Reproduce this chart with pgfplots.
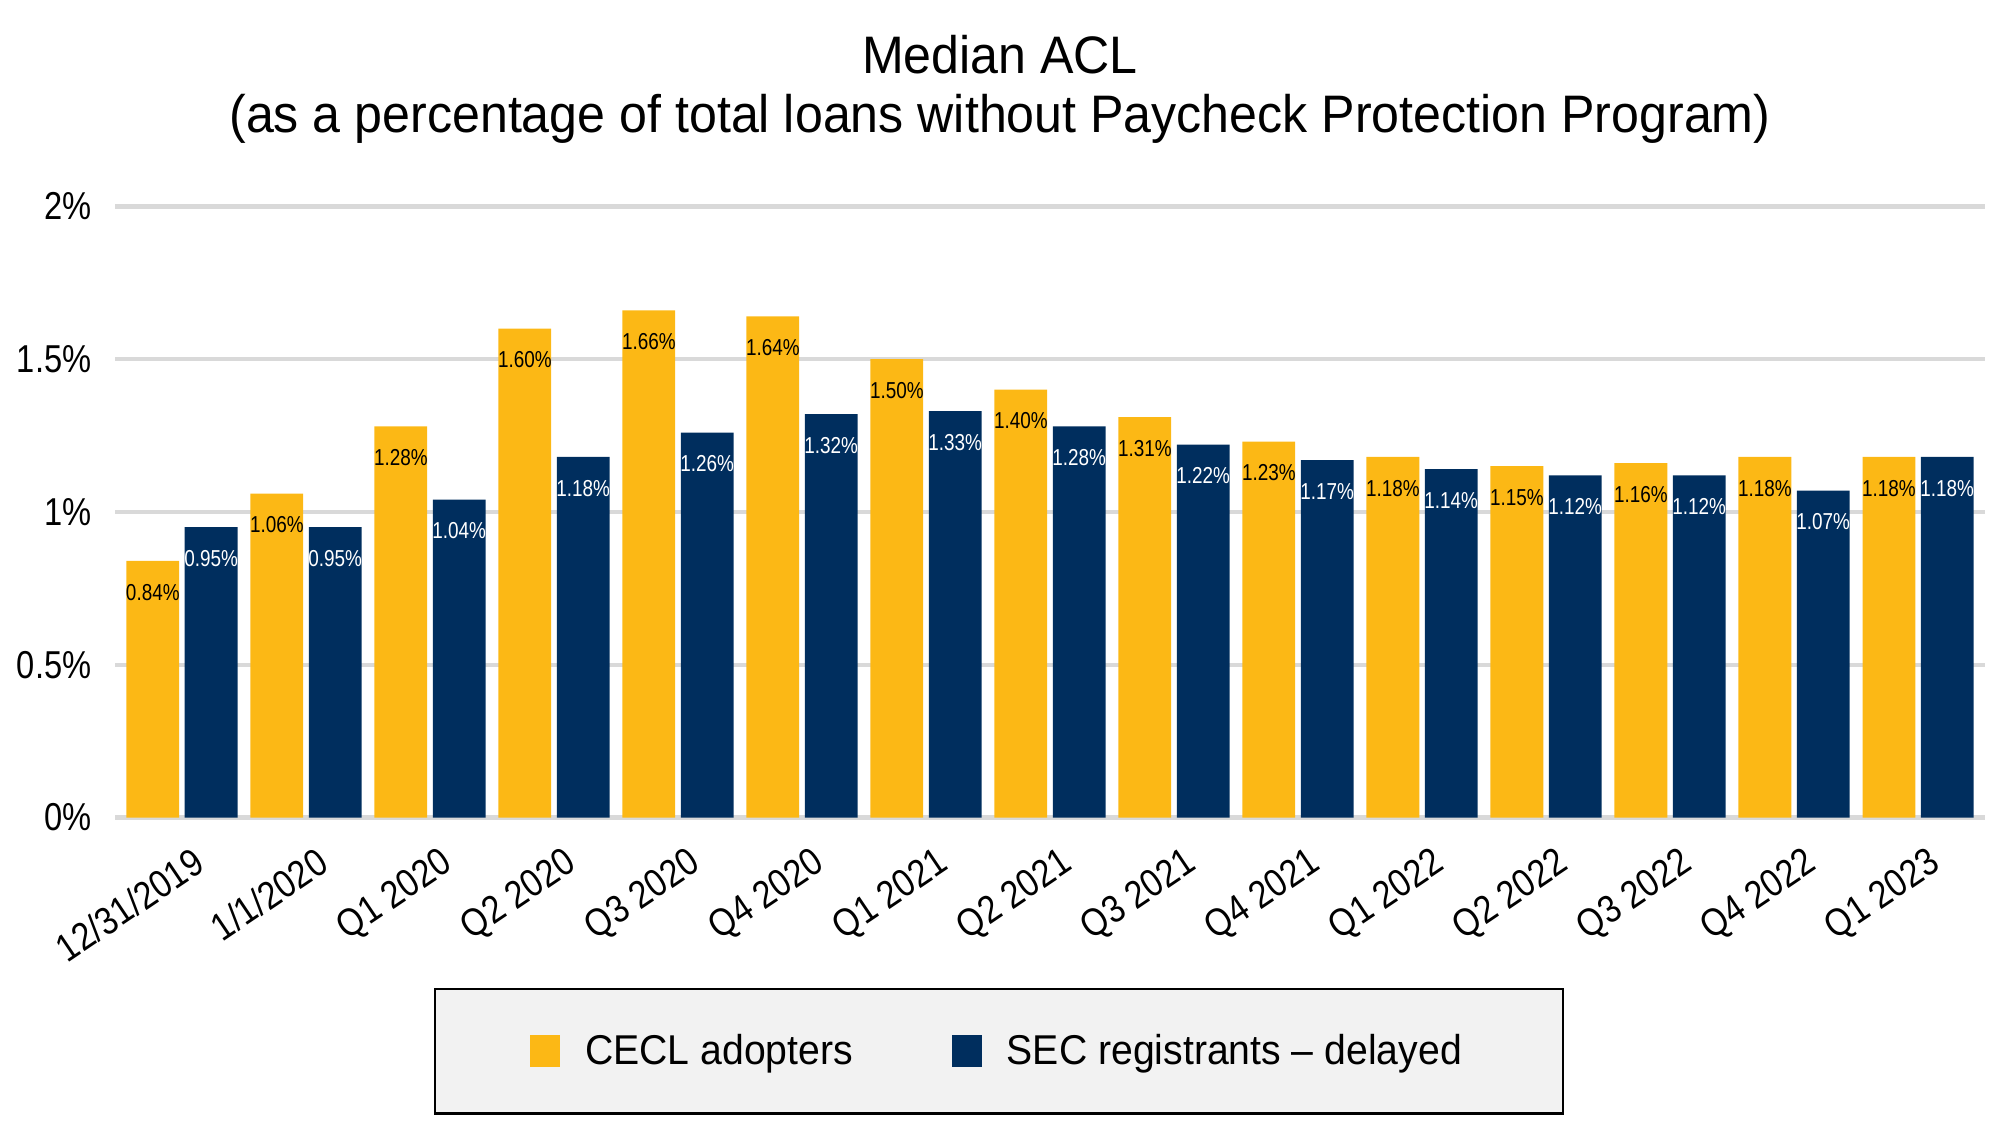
\documentclass[border=0pt]{standalone}
\usepackage{pgfplots}
\pgfplotsset{compat=1.18}
\usepackage{fontspec}
\setmainfont{Liberation Sans}
\newfontfamily\xfont{Liberation Sans}[FakeStretch=0.86]
\newfontfamily\yfont{Liberation Sans}[FakeStretch=0.84]
\newfontfamily\valfont{Liberation Sans}[FakeStretch=0.82]
\newfontfamily\titlefont{Liberation Sans}[FakeStretch=0.95]
\newfontfamily\legfont{Liberation Sans}[FakeStretch=0.94]
\definecolor{cecl}{RGB}{252,184,21}
\definecolor{sec}{RGB}{0,46,94}
\definecolor{gridgray}{RGB}{217,217,217}
\definecolor{legbg}{RGB}{242,242,242}

\begin{document}
\begin{tikzpicture}
\useasboundingbox (0,0) rectangle (720pt,405pt);
\node[font=\titlefont\fontsize{19}{22}\selectfont, anchor=base] at (360pt,378.4pt) {Median ACL};
\node[font=\titlefont\fontsize{19}{22}\selectfont, anchor=base] at (360pt,357.3pt)
  {(as a percentage of total loans without Paycheck Protection Program)};
\begin{axis}[
  at={(41.4pt,110.7pt)}, anchor=south west,
  width=673.2pt, height=220pt, scale only axis,
  ybar=2pt, bar width=19pt,
  xmin=-0.54, xmax=14.54, ymin=0, ymax=2,
  axis line style={draw=none},
  ytick={0,0.5,1,1.5,2},
  yticklabels={0\%,0.5\%,1\%,1.5\%,2\%},
  ymajorgrids, grid style={gridgray, line width=1.6pt},
  major tick length=0pt,
  xtick={0,...,14},
  xticklabels={12/31/2019,1/1/2020,Q1 2020,Q2 2020,Q3 2020,Q4 2020,Q1 2021,Q2 2021,Q3 2021,Q4 2021,Q1 2022,Q2 2022,Q3 2022,Q4 2022,Q1 2023},
  yticklabel style={font=\yfont\fontsize{14}{16}\selectfont, anchor=east, inner sep=0pt, xshift=-8.3pt},
  xticklabel style={font=\xfont\fontsize{14}{16}\selectfont, anchor=north east, inner sep=0pt, xshift=3.3pt, yshift=-10pt, rotate=34},
  /pgf/number format/assume math mode=true,
  nodes near coords={\pgfmathprintnumber[fixed,fixed zerofill,precision=2]{\pgfplotspointmeta}\%},
  every node near coord/.append style={font=\valfont\fontsize{8.3}{10}\selectfont, anchor=north, inner xsep=0pt, yshift=-4.8pt},
  legend columns=-1,
  legend style={at={(0.4727,-0.3827)}, anchor=center, draw=black, line width=0.8pt, fill=legbg,
    font=\legfont\fontsize{15}{18}\selectfont, inner xsep=34.5pt, inner ysep=14.2pt,
    /tikz/every odd column/.append style={column sep=6.9pt},
    /tikz/every even column/.append style={column sep=33.7pt}},
  legend image code/.code={\fill[#1] (1.2pt,-5.5pt) rectangle (12pt,6pt);},
]
\addplot[fill=cecl, draw=none, every node near coord/.append style={text=black}] coordinates {
  (0,0.84) (1,1.06) (2,1.28) (3,1.60) (4,1.66) (5,1.64) (6,1.50) (7,1.40)
  (8,1.31) (9,1.23) (10,1.18) (11,1.15) (12,1.16) (13,1.18) (14,1.18)
};
\addplot[fill=sec, draw=none, every node near coord/.append style={text=white}] coordinates {
  (0,0.95) (1,0.95) (2,1.04) (3,1.18) (4,1.26) (5,1.32) (6,1.33) (7,1.28)
  (8,1.22) (9,1.17) (10,1.14) (11,1.12) (12,1.12) (13,1.07) (14,1.18)
};
\legend{CECL adopters, SEC registrants – delayed}
\end{axis}
\end{tikzpicture}
\end{document}
